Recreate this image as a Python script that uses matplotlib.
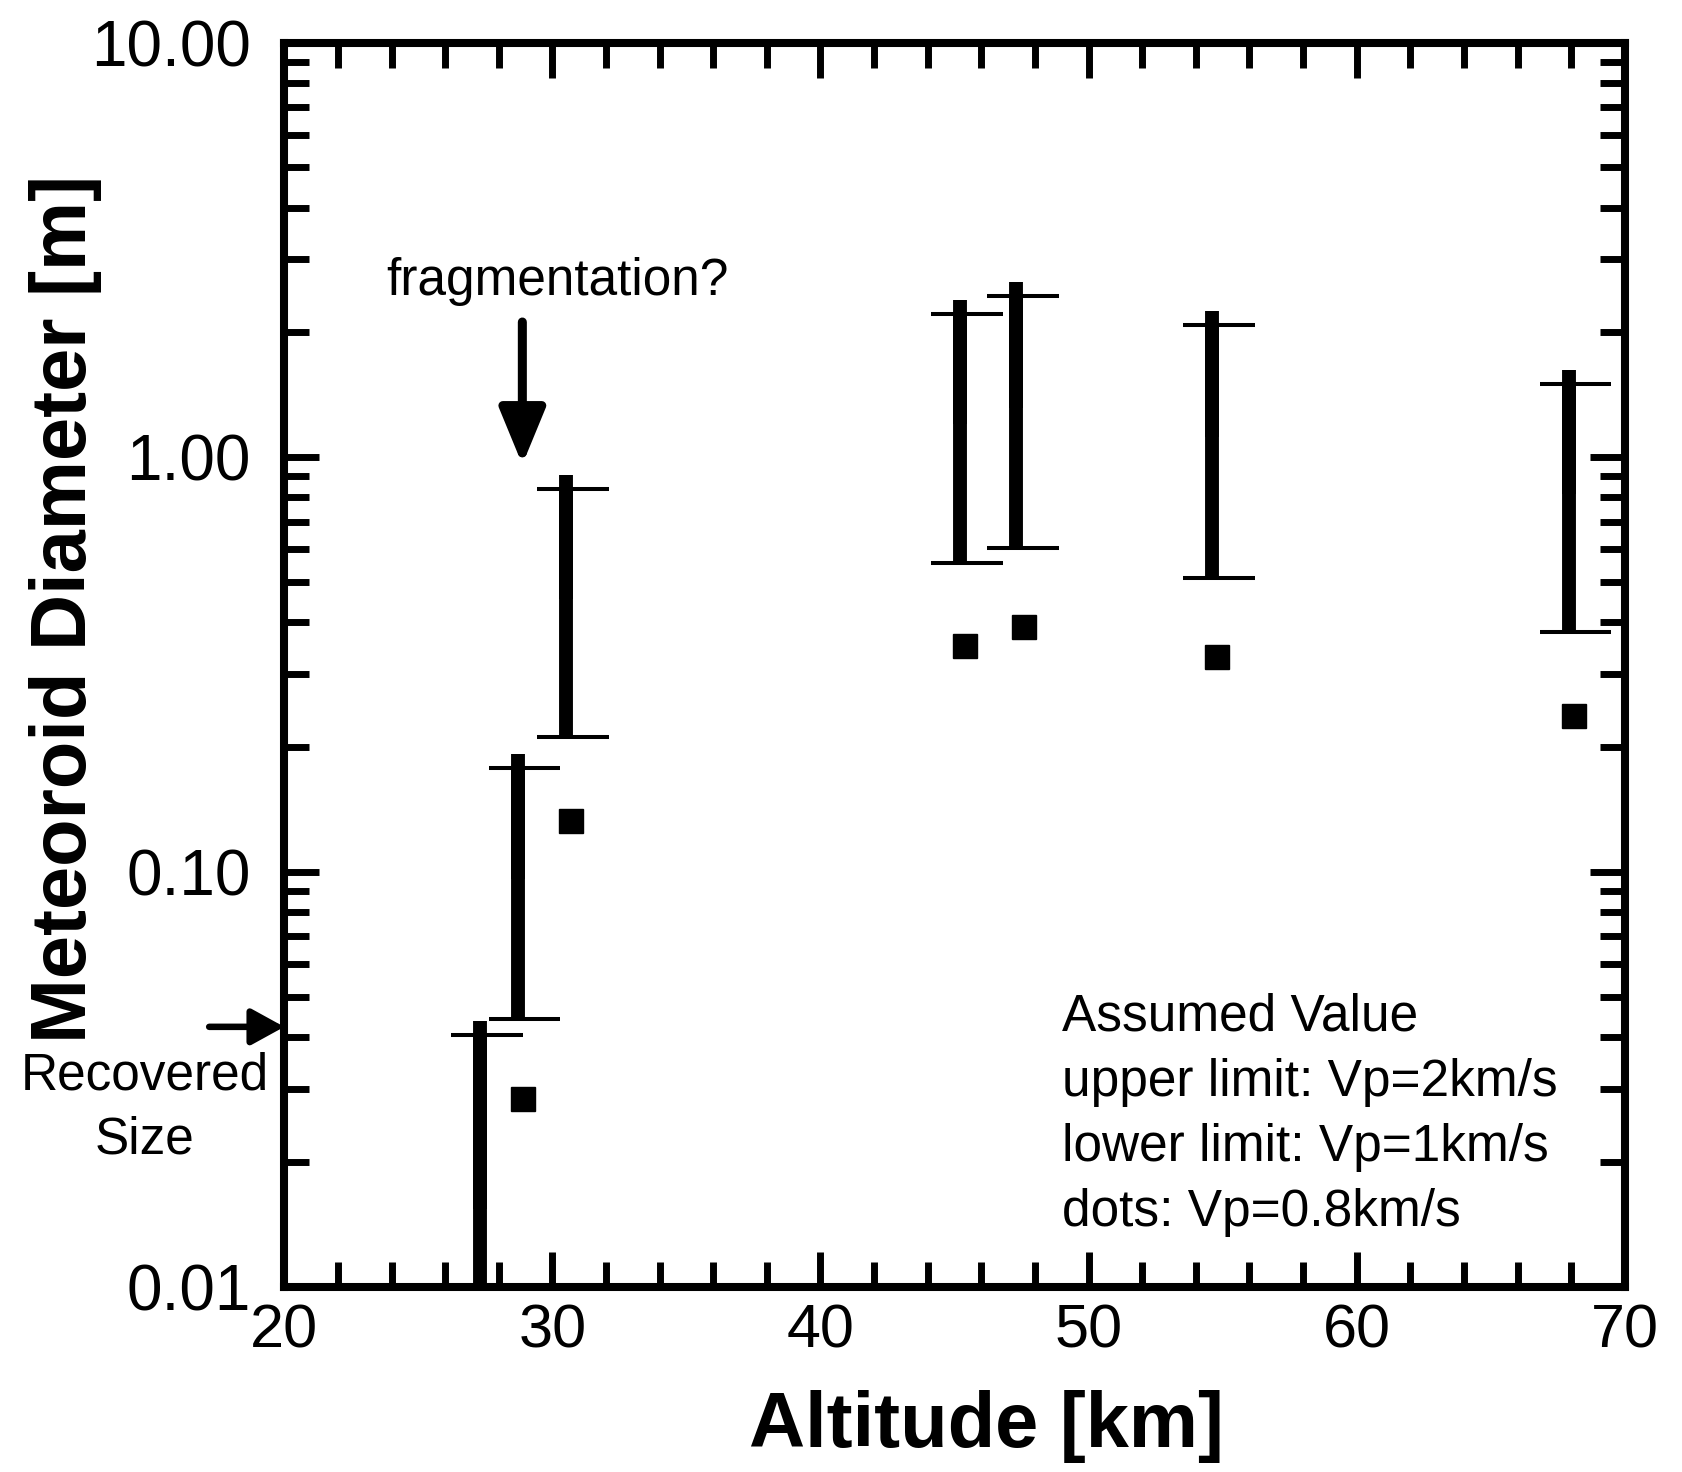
import matplotlib
matplotlib.use('Agg')
import matplotlib.pyplot as plt
from matplotlib.ticker import MultipleLocator, LogLocator, NullFormatter
from matplotlib.transforms import offset_copy
import numpy as np

plt.rcParams['font.family'] = ['Liberation Sans', 'DejaVu Sans']

# altitude of each range bar [km]
bar_alt = [27.3, 28.7, 30.5, 45.2, 47.3, 54.6, 67.9]
# upper limit (Vp=2km/s) and lower limit (Vp=1km/s) diameters [m]
upper = [0.0405, 0.178, 0.839, 2.22, 2.45, 2.09, 1.50]
lower = [0.005, 0.0443, 0.211, 0.557, 0.605, 0.512, 0.378]

# dots: Vp=0.8km/s
dot_alt = [28.9, 30.7, 45.4, 47.6, 54.8, 68.1]
dot_diam = [0.0284, 0.133, 0.350, 0.389, 0.330, 0.238]

recovered_size = 0.0423

y_ticks = [0.01, 0.1, 1, 10]
y_ticklabels = ['0.01', '0.10', '1.00', '10.00']
x_ticks = [20, 30, 40, 50, 60, 70]

fig = plt.figure(figsize=(16.82, 14.72), dpi=100)
ax = fig.add_axes([0.169, 0.126, 0.797, 0.845])

ax.set_yscale('log')
ax.set_xlim(20, 70)
ax.set_ylim(0.01, 10)

# thick bars, the top sticks out a little above the upper cap
up_shift = offset_copy(ax.transData, fig=fig, x=0, y=14, units='dots')
for x, lo, hi in zip(bar_alt, lower, upper):
    ax.plot([x, x], [lo, hi], color='black', lw=10, solid_capstyle='butt')
    ax.plot([x, x], [np.sqrt(lo * hi), hi], color='black', lw=10,
            solid_capstyle='butt', transform=up_shift)
    # thin caps, set slightly to the right of the bar
    for v in (lo, hi):
        ax.plot([x - 1.08, x + 1.6], [v, v], color='black', lw=2.9,
                solid_capstyle='butt')

ax.plot(dot_alt, dot_diam, 's', color='black', markersize=17)

# axes styling
for sp in ax.spines.values():
    sp.set_linewidth(5.8)
ax.xaxis.set_major_locator(MultipleLocator(10))
ax.xaxis.set_minor_locator(MultipleLocator(2))
ax.set_xticks(x_ticks)
ax.set_yticks(y_ticks)
ax.set_yticklabels(y_ticklabels)
ax.yaxis.set_minor_locator(LogLocator(base=10, subs=np.arange(2, 10)))
ax.yaxis.set_minor_formatter(NullFormatter())
ax.tick_params(which='both', direction='in', top=True, right=True, width=5)
ax.tick_params(which='major', length=25)
ax.tick_params(which='minor', length=18)
ax.tick_params(axis='y', which='major', labelsize=46, pad=24)
ax.tick_params(axis='x', which='major', labelsize=44, pad=12)

ax.set_xlabel('Altitude [km]', fontsize=56, fontweight='bold')
ax.xaxis.set_label_coords(0.524, -0.083)
ax.set_ylabel('Meteoroid Diameter [m]', fontsize=56, fontweight='bold')
ax.yaxis.set_label_coords(-0.136, 0.545)

# annotations
ax.text(30.2, 2.66, 'fragmentation?', fontsize=37, ha='center', va='center')
ax.annotate('', xy=(28.88, 0.96), xytext=(28.88, 2.12),
            arrowprops=dict(arrowstyle='-|>,head_length=34,head_width=14',
                            mutation_scale=1, lw=6.5, color='black',
                            shrinkA=0, shrinkB=0))

ax.annotate('', xy=(20, recovered_size), xytext=(17.2, recovered_size),
            annotation_clip=False,
            arrowprops=dict(arrowstyle='-|>,head_length=20,head_width=11',
                            mutation_scale=1, lw=4.7, color='black',
                            shrinkA=0, shrinkB=0))
ax.text(-0.104, 0.189, 'Recovered\nSize', transform=ax.transAxes,
        fontsize=37, ha='center', va='top', linespacing=1.4)

ax.text(0.58, 0.236, 'Assumed Value\nupper limit: Vp=2km/s\n'
        'lower limit: Vp=1km/s\ndots: Vp=0.8km/s',
        transform=ax.transAxes, fontsize=37, ha='left', va='top',
        linespacing=1.42)

plt.savefig('out.png', dpi=100)
